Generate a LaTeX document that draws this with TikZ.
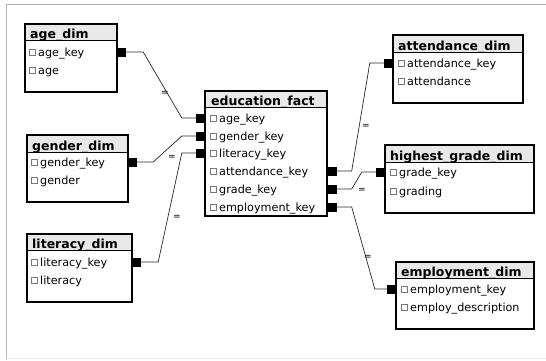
\documentclass[tikz,border=0pt]{standalone}
\usepackage{fontspec}
\setmainfont{DejaVu Sans}
\usetikzlibrary{calc}

\tikzset{
  tblbox/.style={draw=black, line width=1.2pt},
  hdrline/.style={draw=black, line width=0.8pt},
  tbltitle/.style={anchor=base west, inner sep=0pt, font=\fontsize{12.5}{15}\selectfont\bfseries},
  field/.style={anchor=base west, inner sep=0pt, font=\fontsize{11.2}{13}\selectfont},
  chk/.style={draw=boxgray, line width=0.5pt, minimum size=6pt, inner sep=0pt},
  keymark/.style={fill=black, minimum size=9pt, inner sep=0pt},
  link/.style={draw=linkgray, line width=0.7pt},
  eqmark/.style={font=\fontsize{9}{9}\selectfont, inner sep=0pt}
}

\begin{document}
\begin{tikzpicture}[x=1pt,y=-1pt]
        % Define colors
        \definecolor{hdrgray}{RGB}{232,232,232}
        \definecolor{boxgray}{RGB}{120,120,120}
        \definecolor{linkgray}{RGB}{40,40,40}

        \useasboundingbox (0,0) rectangle (546,360);

        % Frame
        \draw[gray!60, line width=0.8pt] (6,360) -- (6,4) -- (546,4);
        \draw[gray!15, line width=0.8pt] (6,358) -- (546,358);

        % --- age_dim ---
        \fill[white] (25,24) rectangle (117,92);
        \fill[hdrgray] (25,24) rectangle (117,40);
        \draw[hdrline] (25,40) -- (117,40);
        \draw[tblbox] (25,24) rectangle (117,92);
        \node[tbltitle] (age-t) at (30,38) {age\_dim};
        \node[chk] (age-c1) at (32,52) {}; \node[field] (age-f1) at (38,56) {age\_key};
        \node[chk] (age-c2) at (32,70) {}; \node[field] (age-f2) at (38,74) {age};
        \node[keymark] (age-k) at (121.5,52) {};

        % --- gender_dim ---
        \fill[white] (27,135) rectangle (128,202);
        \fill[hdrgray] (27,135) rectangle (128,152);
        \draw[hdrline] (27,152) -- (128,152);
        \draw[tblbox] (27,135) rectangle (128,202);
        \node[tbltitle] (gender-t) at (32,150) {gender\_dim};
        \node[chk] (gender-c1) at (34,162) {}; \node[field] (gender-f1) at (40,166) {gender\_key};
        \node[chk] (gender-c2) at (34,180) {}; \node[field] (gender-f2) at (40,184) {gender};
        \node[keymark] (gender-k) at (132.5,162) {};

        % --- literacy_dim ---
        \fill[white] (27,234) rectangle (132,302);
        \fill[hdrgray] (27,234) rectangle (132,250);
        \draw[hdrline] (27,250) -- (132,250);
        \draw[tblbox] (27,234) rectangle (132,302);
        \node[tbltitle] (lit-t) at (32,248) {literacy\_dim};
        \node[chk] (lit-c1) at (34,262) {}; \node[field] (lit-f1) at (40,266) {literacy\_key};
        \node[chk] (lit-c2) at (34,280) {}; \node[field] (lit-f2) at (40,284) {literacy};
        \node[keymark] (lit-k) at (136.5,262) {};

        % --- education_fact ---
        \fill[white] (205,91) rectangle (327,216);
        \fill[hdrgray] (205,91) rectangle (327,107);
        \draw[hdrline] (205,107) -- (327,107);
        \draw[tblbox] (205,91) rectangle (327,216);
        \node[tbltitle] (fact-t) at (211,105) {education\_fact};
        \node[chk] (fact-c1) at (213,118) {}; \node[field] (fact-f1) at (219,122) {age\_key};
        \node[chk] (fact-c2) at (213,136) {}; \node[field] (fact-f2) at (219,140) {gender\_key};
        \node[chk] (fact-c3) at (213,153) {}; \node[field] (fact-f3) at (219,157) {literacy\_key};
        \node[chk] (fact-c4) at (213,171) {}; \node[field] (fact-f4) at (219,175) {attendance\_key};
        \node[chk] (fact-c5) at (213,189) {}; \node[field] (fact-f5) at (219,193) {grade\_key};
        \node[chk] (fact-c6) at (213,207) {}; \node[field] (fact-f6) at (219,211) {employment\_key};
        \node[keymark] (fact-kl1) at (200.5,118) {};
        \node[keymark] (fact-kl2) at (200.5,136) {};
        \node[keymark] (fact-kl3) at (200.5,153) {};
        \node[keymark] (fact-kr4) at (332,171) {};
        \node[keymark] (fact-kr5) at (332,189) {};
        \node[keymark] (fact-kr6) at (332,207) {};

        % --- attendance_dim ---
        \fill[white] (393,35) rectangle (523,103);
        \fill[hdrgray] (393,35) rectangle (523,52);
        \draw[hdrline] (393,52) -- (523,52);
        \draw[tblbox] (393,35) rectangle (523,103);
        \node[tbltitle] (att-t) at (398,50) {attendance\_dim};
        \node[chk] (att-c1) at (401,63) {}; \node[field] (att-f1) at (407,67) {attendance\_key};
        \node[chk] (att-c2) at (401,81) {}; \node[field] (att-f2) at (407,85) {attendance};
        \node[keymark] (att-k) at (388.5,63) {};

        % --- highest_grade_dim ---
        \fill[white] (385,145) rectangle (534,213);
        \fill[hdrgray] (385,145) rectangle (534,162);
        \draw[hdrline] (385,162) -- (534,162);
        \draw[tblbox] (385,145) rectangle (534,213);
        \node[tbltitle] (grade-t) at (390,160) {highest\_grade\_dim};
        \node[chk] (grade-c1) at (393,172) {}; \node[field] (grade-f1) at (399,176) {grade\_key};
        \node[chk] (grade-c2) at (393,191) {}; \node[field] (grade-f2) at (399,195) {grading};
        \node[keymark] (grade-k) at (380.5,172) {};

        % --- employment_dim ---
        \fill[white] (396,262) rectangle (534,329);
        \fill[hdrgray] (396,262) rectangle (534,278);
        \draw[hdrline] (396,278) -- (534,278);
        \draw[tblbox] (396,262) rectangle (534,329);
        \node[tbltitle] (emp-t) at (401,276) {employment\_dim};
        \node[chk] (emp-c1) at (404,289) {}; \node[field] (emp-f1) at (410,293) {employment\_key};
        \node[chk] (emp-c2) at (404,307) {}; \node[field] (emp-f2) at (410,311) {employ\_description};
        \node[keymark] (emp-k) at (391.5,289) {};

        % Relationships
        \draw[link] (age-k.east) -- ++(17,0) -- ($(fact-kl1.west)+(-14,0)$) -- (fact-kl1.west);
        \draw[link] (gender-k.east) -- ++(16,0) -- ($(fact-kl2.west)+(-14,0)$) -- (fact-kl2.west);
        \draw[link] (lit-k.east) -- ++(17,0) -- ($(fact-kl3.west)+(-14,0)$) -- (fact-kl3.west);
        \draw[link] (fact-kr4.east) -- ++(15,0) -- ($(att-k.west)+(-14,0)$) -- (att-k.west);
        \draw[link] (fact-kr5.east) -- ++(15,0) -- ($(grade-k.west)+(-14,0)$) -- (grade-k.west);
        \draw[link] (fact-kr6.east) -- ++(15,0) -- ($(emp-k.west)+(-12,0)$) -- (emp-k.west);

        % Small = marks
        \node[eqmark] (eq-age) at (165,93) {=};
        \node[eqmark] (eq-gender) at (172,157) {=};
        \node[eqmark] (eq-lit) at (177,217) {=};
        \node[eqmark] (eq-att) at (366,126) {=};
        \node[eqmark] (eq-grade) at (362,190) {=};
        \node[eqmark] (eq-emp) at (368,257) {=};
\end{tikzpicture}
\end{document}
